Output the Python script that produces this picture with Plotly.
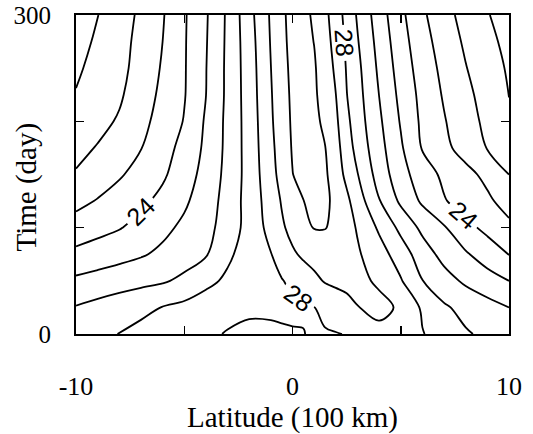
import plotly.graph_objects as go

# Latitude grid (100 km) and time grid (day)
lat = [-10, -9, -8, -7, -6, -5, -4, -3, -2, -1, -0.5, 0, 0.5, 1, 1.5, 2, 2.5, 3, 4, 5, 6, 7, 8, 9, 10]
days = [0, 25, 50, 75, 100, 125, 150, 175, 200, 225, 250, 275, 300]

# Temperature values, one row per day
t000 = [26.55, 26.78, 27.02, 27.25, 27.45, 27.65, 27.82, 28.06, 28.15, 28.13, 28.10, 28.08, 28.04, 27.80, 27.90, 27.96, 28.03, 28.30, 28.80, 28.55, 28.05, 27.55, 27.10, 26.80, 26.60]
t025 = [26.06, 26.30, 26.55, 26.78, 27.03, 27.25, 27.50, 27.70, 27.88, 27.88, 27.85, 27.80, 27.85, 27.98, 28.30, 28.50, 28.75, 28.98, 29.20, 28.90, 27.85, 27.13, 26.70, 26.35, 26.00]
t050 = [25.19, 25.37, 25.54, 25.72, 25.89, 26.21, 26.75, 27.17, 27.48, 27.79, 27.95, 28.21, 28.51, 28.81, 29.06, 29.18, 29.22, 29.18, 28.89, 28.08, 27.02, 26.38, 25.83, 25.41, 25.00]
t075 = [24.24, 24.46, 24.68, 24.90, 25.20, 25.56, 25.91, 26.82, 27.44, 27.97, 28.41, 28.87, 29.15, 29.30, 29.38, 29.38, 29.30, 29.12, 28.42, 27.51, 26.48, 25.68, 25.11, 24.53, 23.97]
t100 = [23.43, 23.69, 23.94, 24.33, 24.76, 25.20, 25.71, 26.40, 27.39, 28.30, 28.86, 29.28, 29.66, 30.05, 30.04, 29.78, 29.36, 28.92, 27.85, 26.75, 25.77, 25.09, 24.28, 23.75, 23.24]
t125 = [22.72, 23.06, 23.43, 23.80, 24.26, 24.84, 25.52, 26.36, 27.40, 28.46, 29.07, 29.53, 29.98, 30.30, 30.20, 29.76, 29.22, 28.50, 27.06, 25.82, 24.84, 24.07, 23.61, 23.19, 22.58]
t150 = [22.08, 22.49, 22.89, 23.36, 23.85, 24.54, 25.34, 26.28, 27.38, 28.66, 29.33, 29.98, 30.30, 30.40, 30.15, 29.51, 28.76, 28.04, 26.58, 25.38, 24.47, 23.80, 23.31, 22.73, 22.00]
t175 = [21.72, 22.06, 22.51, 22.97, 23.60, 24.32, 25.19, 26.24, 27.41, 28.76, 29.46, 30.07, 30.35, 30.35, 30.03, 29.35, 28.49, 27.66, 26.35, 25.13, 23.93, 23.25, 22.59, 21.96, 21.63]
t200 = [21.40, 21.72, 22.10, 22.72, 23.37, 24.05, 25.12, 26.23, 27.43, 28.86, 29.56, 30.12, 30.35, 30.20, 29.83, 29.19, 28.24, 27.47, 26.17, 24.92, 23.80, 23.07, 22.38, 21.78, 21.27]
t225 = [21.05, 21.47, 21.87, 22.51, 23.22, 23.94, 24.99, 26.20, 27.48, 28.92, 29.65, 30.15, 30.35, 30.15, 29.61, 29.01, 28.03, 27.35, 25.99, 24.74, 23.70, 22.90, 22.25, 21.60, 20.97]
t250 = [20.85, 21.30, 21.75, 22.33, 23.10, 23.92, 24.97, 26.20, 27.51, 28.99, 29.71, 30.20, 30.35, 30.10, 29.50, 28.84, 27.93, 27.24, 25.82, 24.57, 23.54, 22.74, 22.04, 21.45, 20.88]
t275 = [20.63, 21.15, 21.67, 22.27, 23.00, 23.91, 24.93, 26.18, 27.57, 29.06, 29.78, 30.25, 30.30, 29.98, 29.38, 28.66, 27.82, 27.07, 25.66, 24.40, 23.37, 22.55, 21.85, 21.28, 20.71]
t300 = [20.40, 20.98, 21.56, 22.18, 22.92, 23.89, 24.89, 26.16, 27.67, 29.12, 29.85, 30.25, 30.25, 29.86, 29.25, 28.50, 27.68, 26.90, 25.48, 24.23, 23.17, 22.34, 21.66, 21.07, 20.48]

sst = [t000, t025, t050, t075, t100, t125, t150, t175, t200, t225, t250, t275, t300]

# contour level groups: (start, end, step, labelled)
level_groups = [(21, 23, 1, False), (25, 27, 1, False), (29, 30, 1, False), (24, 28, 4, True)]

x_tickvals = [-10, -5, 0, 5, 10]
x_ticktext = ["-10", "", "0", "", "10"]
y_tickvals = [0, 100, 200, 300]
y_ticktext = ["0", "", "", "300"]

fig = go.Figure()
for start, end, step, labelled in level_groups:
    fig.add_trace(go.Contour(
        x=lat, y=days, z=sst,
        autocontour=False,
        contours=dict(start=start, end=end, size=step, coloring="none",
                      showlabels=labelled,
                      labelfont=dict(family="Liberation Sans", size=25, color="black")),
        line=dict(color="black", width=1.8, smoothing=1.0),
        showscale=False, hoverinfo="skip",
    ))

serif = "Liberation Serif"
fig.update_layout(
    width=533, height=434,
    margin=dict(l=76, r=24, t=15, b=100, autoexpand=False),
    paper_bgcolor="white", plot_bgcolor="white",
    showlegend=False,
    xaxis=dict(range=[-10, 10], tickvals=x_tickvals, ticktext=x_ticktext,
               ticks="inside", ticklen=8, tickwidth=1.5, tickcolor="black",
               showline=True, linecolor="black", linewidth=2, mirror="ticks",
               showgrid=False, zeroline=False, automargin=False,
               ticklabeloverflow="allow",
               tickfont=dict(family=serif, size=26, color="black"),
               ticklabelstandoff=28,
               title=dict(text="Latitude (100 km)", font=dict(family=serif, size=29, color="black"),
                          standoff=12)),
    yaxis=dict(range=[0, 300], tickvals=y_tickvals, ticktext=y_ticktext,
               ticks="inside", ticklen=8, tickwidth=1.5, tickcolor="black",
               showline=True, linecolor="black", linewidth=2, mirror="ticks",
               showgrid=False, zeroline=False, automargin=False,
               ticklabeloverflow="allow",
               tickfont=dict(family=serif, size=25, color="black"),
               ticklabelstandoff=18,
               title=dict(text="")),
    annotations=[dict(text="Time (day)", textangle=-90, xref="paper", yref="paper",
                      x=-0.115, y=0.46, xanchor="center", yanchor="middle", showarrow=False,
                      font=dict(family=serif, size=29, color="black"))],
)

fig.write_html("out.html", config={"displayModeBar": False, "staticPlot": True},
               post_script="document.body.style.margin='0px';document.body.style.padding='0px';")
